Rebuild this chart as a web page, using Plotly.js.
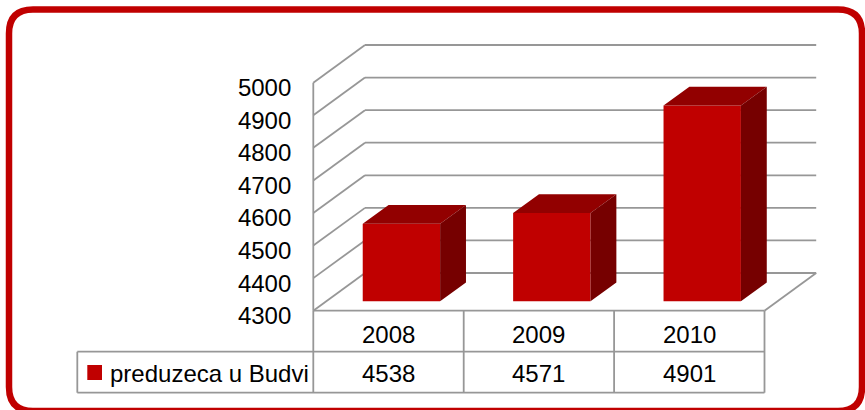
<!DOCTYPE html>
<html>
<head>
<meta charset="utf-8">
<script src="https://cdn.plot.ly/plotly-3.0.1.min.js"></script>
<style>html,body{margin:0;padding:0;background:#fff;}#chart{width:865px;height:410px;}</style>
</head>
<body>
<div id="chart"></div>
<script>
// ---- data ----
const categories = ['2008', '2009', '2010'];
const values = [4538, 4571, 4901];
const seriesName = 'preduzeca u Budvi';
const tickVals = [4300, 4400, 4500, 4600, 4700, 4800, 4900, 5000];
const tickText = ['4300', '4400', '4500', '4600', '4700', '4800', '4900', '5000'];

// ---- geometry (pixel calibration of the pseudo-3D frame) ----
const W = 865, H = 410;
const axisPx = 313.3, catPx = 150.4;      // front-left corner, category width
const floorPy = 310.7, k = 0.3257;         // front floor pixel row, px per unit
const DX = 51.7 / catPx, DY = 37.7 / k;    // full depth offset in axis units
const barW = 0.5146;
const base = tickVals[0];
const xMin = (0 - axisPx) / catPx - 0.5, xMax = (W - axisPx) / catPx - 0.5;
const yMax = base + floorPy / k, yMin = base - (H - floorPy) / k;
const n = categories.length;
const xL = -0.5, xR = n - 0.5;
const pxToX = p => (p - axisPx) / catPx - 0.5;
const pyToPaper = p => 1 - p / H;

const gridColor = '#979797', gridW = 1.8;
const shapes = [];
function seg(x0, y0, x1, y1, extra) {
  shapes.push(Object.assign({type: 'line', xref: 'x', yref: 'y', x0, y0, x1, y1, layer: 'below',
    line: {color: gridColor, width: gridW}}, extra || {}));
}
// back wall + left wall gridlines
tickVals.forEach(t => {
  seg(xL + DX, t + DY, xR + DX, t + DY);
  seg(xL, t, xL + DX, t + DY);
});
// front-left vertical axis
seg(xL, tickVals[0], xL, tickVals[tickVals.length - 1]);
// floor front and right edges
seg(xL, base, xR, base);
seg(xR, base, xR + DX, base + DY);

// data table lines
const rowTop = floorPy, rowMid = 351.7, rowBot = 392.7, legLeft = pxToX(77.3);
function tline(x0, p0, x1, p1) {
  shapes.push({type: 'line', xref: 'x', yref: 'paper', x0, x1, y0: pyToPaper(p0), y1: pyToPaper(p1),
    layer: 'below', line: {color: gridColor, width: gridW}});
}
for (let i = 0; i <= n; i++) tline(xL + i, rowTop, xL + i, rowBot);
tline(legLeft, rowMid, legLeft, rowBot);
tline(legLeft, rowMid, xR, rowMid);
tline(legLeft, rowBot, xR, rowBot);
// legend swatch
shapes.push({type: 'rect', xref: 'x', yref: 'paper', x0: pxToX(87.3), x1: pxToX(102),
  y0: pyToPaper(380), y1: pyToPaper(365), fillcolor: '#C00000', line: {width: 0}, layer: 'above'});

// rounded red frame
(function () {
  const l = 9, r = 862, t = 9.5, b = 411, rad = 24;
  const X = p => p / W, Y = p => 1 - p / H;
  const path = `M ${X(l + rad)},${Y(t)} L ${X(r - rad)},${Y(t)} Q ${X(r)},${Y(t)} ${X(r)},${Y(t + rad)} ` +
    `L ${X(r)},${Y(b - rad)} Q ${X(r)},${Y(b)} ${X(r - rad)},${Y(b)} L ${X(l + rad)},${Y(b)} ` +
    `Q ${X(l)},${Y(b)} ${X(l)},${Y(b - rad)} L ${X(l)},${Y(t + rad)} Q ${X(l)},${Y(t)} ${X(l + rad)},${Y(t)} Z`;
  shapes.push({type: 'path', xref: 'paper', yref: 'paper', path, line: {color: '#C00000', width: 6.5}, layer: 'above'});
})();

// ---- bars ----
const frontDepth = 0.25, barDepth = 0.5;
const xs = categories.map((c, i) => i + frontDepth * DX);
const frontTrace = {
  type: 'bar', x: xs, y: values.map(v => v - base), base: base + frontDepth * DY,
  width: barW, marker: {color: '#C00000', line: {width: 0}}, name: seriesName, showlegend: false
};
const topX = [], topY = [], sideX = [], sideY = [];
values.forEach((v, i) => {
  const x0 = xs[i] - barW / 2, x1 = xs[i] + barW / 2;
  const yb = base + frontDepth * DY, yt = v + frontDepth * DY;
  const ddx = barDepth * DX, ddy = barDepth * DY;
  topX.push(x0, x1, x1 + ddx, x0 + ddx, x0, null);
  topY.push(yt, yt, yt + ddy, yt + ddy, yt, null);
  sideX.push(x1, x1 + ddx, x1 + ddx, x1, x1, null);
  sideY.push(yb, yb + ddy, yt + ddy, yt, yb, null);
});
const topTrace = {type: 'scatter', mode: 'lines', x: topX, y: topY, fill: 'toself', fillcolor: '#920000',
  line: {width: 0, color: '#920000'}, showlegend: false, hoverinfo: 'skip'};
const sideTrace = {type: 'scatter', mode: 'lines', x: sideX, y: sideY, fill: 'toself', fillcolor: '#760000',
  line: {width: 0, color: '#760000'}, showlegend: false, hoverinfo: 'skip'};

// ---- table text ----
const font = {family: '"Liberation Sans", Arial, sans-serif', size: 24, color: '#000'};
const annotations = [];
categories.forEach((c, i) => {
  annotations.push({xref: 'x', yref: 'paper', x: i, y: pyToPaper(334.5), text: c, showarrow: false,
    xanchor: 'center', yanchor: 'middle', font});
  annotations.push({xref: 'x', yref: 'paper', x: i, y: pyToPaper(373), text: String(values[i]), showarrow: false,
    xanchor: 'center', yanchor: 'middle', font});
});
annotations.push({xref: 'x', yref: 'paper', x: pxToX(108), y: pyToPaper(373), text: seriesName, showarrow: false,
  xanchor: 'left', yanchor: 'middle', font});

const layout = {
  width: W, height: H, margin: {l: 0, r: 0, t: 0, b: 0, pad: 0},
  paper_bgcolor: '#fff', plot_bgcolor: 'rgba(0,0,0,0)', showlegend: false,
  xaxis: {range: [xMin, xMax], visible: false, fixedrange: true},
  yaxis: {range: [yMin, yMax], anchor: 'free', position: axisPx / W, side: 'left',
    tickvals: tickVals, ticktext: tickText, showgrid: false, zeroline: false, showline: false,
    ticks: '', ticklabelstandoff: 22, ticklabelshift: 5, tickfont: font, fixedrange: true},
  shapes, annotations
};
Plotly.newPlot('chart', [frontTrace, topTrace, sideTrace], layout, {staticPlot: true, displayModeBar: false});
</script>
</body>
</html>
